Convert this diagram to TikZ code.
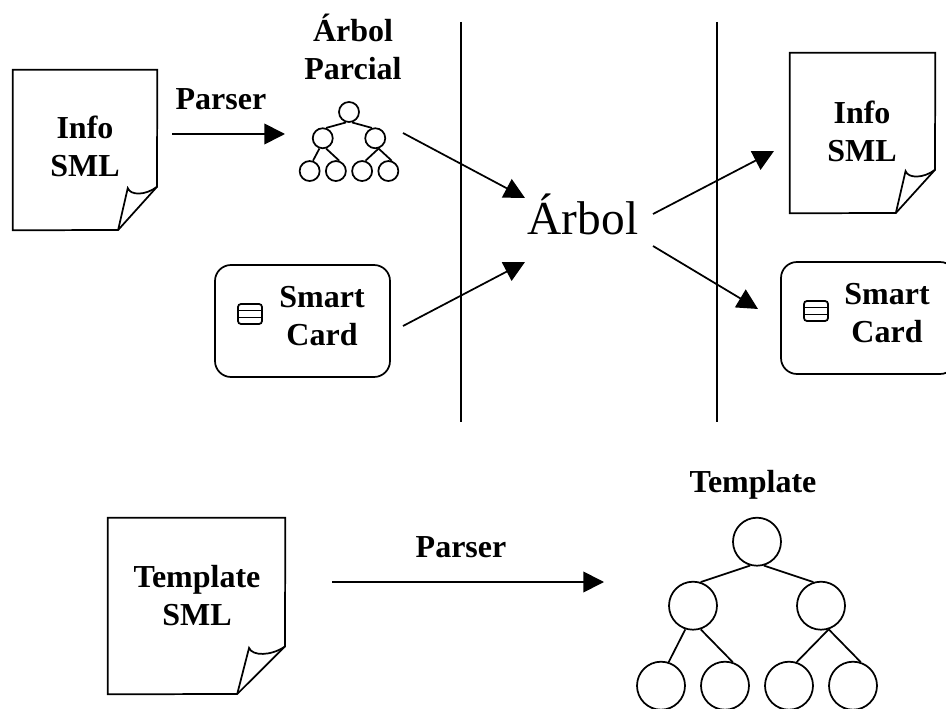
\documentclass[tikz,border=0pt]{standalone}
\usepackage{fontspec}
\setmainfont{Liberation Serif}
\usetikzlibrary{arrows.meta}

\tikzset{
    trazo/.style={draw, line width=1.3pt},
    rotulo/.style={font=\bfseries\fontsize{24}{28.5}\selectfont, align=center, inner sep=0pt},
    flecha/.style={line width=1.3pt, -{Triangle[length=15.5pt, width=15.5pt]}},
    hojabox/.style={inner sep=0pt},
    nodo/.style={trazo, circle, inner sep=0pt},
    tarjeta/.style={trazo, rounded corners=12pt, inner sep=0pt},
    chip/.style={trazo, rounded corners=2.2pt, inner sep=0pt, minimum width=18pt, minimum height=15pt}
}

% name, left, top, width, height
\newcommand{\hoja}[5]{
    \node[hojabox, minimum width=#4*.75pt, minimum height=#5*.75pt] (#1) at ({#2+#4/2},{#3+#5/2}) {};
    \draw[trazo] ({#2+.73*#4},{#3+#5}) -- (#1.south west) -- (#1.north west) -- (#1.north east)
        -- ({#2+#4},{#3+.73*#5}) -- cycle;
    \draw[trazo] ({#2+.73*#4},{#3+#5}) -- ({#2+.797*#4},{#3+.738*#5})
        .. controls ({#2+.815*#4},{#3+.785*#5}) and ({#2+.92*#4},{#3+.785*#5}) .. ({#2+#4},{#3+.73*#5});
}

% name, root x, root y, scale, radius
\newcommand{\arbolito}[5]{
    \node[nodo, minimum size=#5*1.5pt] (#1-r) at (#2,#3) {};
    \foreach \n/\dx/\dy in {a/-64/64, b/64/64, c/-96/144, d/-32/144, e/32/144, f/96/144}
        \node[nodo, minimum size=#5*1.5pt] (#1-\n) at ({#2+#4*\dx},{#3+#4*\dy}) {};
    \foreach \p/\m/\c/\k in {r/-106/a/72, r/-74/b/108, a/-108/c/72, a/-72/d/72, b/-72/e/72, b/-72/f/72}
        \draw[trazo] (#1-\p.\m) -- (#1-\c.\k);
}

% name, left, top, text x, text y
\newcommand{\tarjetita}[5]{
    \node[tarjeta, minimum width=131.25pt, minimum height=84pt] (#1) at ({#2+87.5},{#3+56}) {};
    \node[chip] (#1-chip) at ({#2+35},{#3+49}) {};
    \draw[line width=1.1pt] ([yshift=2.6pt]#1-chip.west) -- ([yshift=2.6pt]#1-chip.east);
    \draw[line width=1.1pt] ([yshift=-2.6pt]#1-chip.west) -- ([yshift=-2.6pt]#1-chip.east);
    \node[rotulo] (#1-txt) at (#4,#5) {Smart\\Card};
}

\begin{document}
\begin{tikzpicture}[x=.75pt, y=-.75pt]
    \useasboundingbox (0,0) rectangle (946,709);
    \clip (0,0) rectangle (946,709);

    % upper row
    \hoja{info}{13}{70}{144}{160}
    \node[rotulo] (info-txt) at (85,146) {Info\\SML};
    \node[rotulo] (parser) at (221,99) {Parser};
    \node[rotulo] (parcial) at (353,46.5) {Árbol\\Parcial};
    \arbolito{mini}{349}{112}{.41}{10}
    \tarjetita{card}{215}{265}{322}{316}
    \node[font=\fontsize{35.5}{40}\selectfont, inner sep=0pt] (arbol) at (583,214.5) {Árbol};
    \hoja{salida}{790}{53}{145}{160}
    \node[rotulo] (salida-txt) at (862,131) {Info\\SML};
    \tarjetita{cardout}{781}{262}{887}{313}

    % lower row
    \hoja{plantilla}{108}{518}{177}{176}
    \node[rotulo] (plantilla-txt) at (197,596) {Template\\SML};
    \node[rotulo] (parser2) at (461,547) {Parser};
    \node[rotulo] (template) at (753,485) {Template};
    \arbolito{grande}{757}{541.7}{1}{24}

    % separators
    \coordinate (sepa1) at (461,22);
    \coordinate (sepa2) at (461,422);
    \coordinate (sepb1) at (717,22);
    \coordinate (sepb2) at (717,422);
    \draw[trazo] (sepa1) -- (sepa2);
    \draw[trazo] (sepb1) -- (sepb2);

    % arrow ends
    \coordinate (p1) at (172,134);
    \coordinate (p2) at (285,134);
    \coordinate (m1) at (403,133);
    \coordinate (m2) at (525,198);
    \coordinate (c1) at (403,326);
    \coordinate (c2) at (525,262);
    \coordinate (s1) at (653,214);
    \coordinate (s2) at (774,151);
    \coordinate (t1) at (653,246);
    \coordinate (t2) at (758,309);
    \coordinate (q1) at (332,582);
    \coordinate (q2) at (604,582);
    \draw[flecha] (p1) -- (p2);
    \draw[flecha] (m1) -- (m2);
    \draw[flecha] (c1) -- (c2);
    \draw[flecha] (s1) -- (s2);
    \draw[flecha] (t1) -- (t2);
    \draw[flecha] (q1) -- (q2);
\end{tikzpicture}
\end{document}
